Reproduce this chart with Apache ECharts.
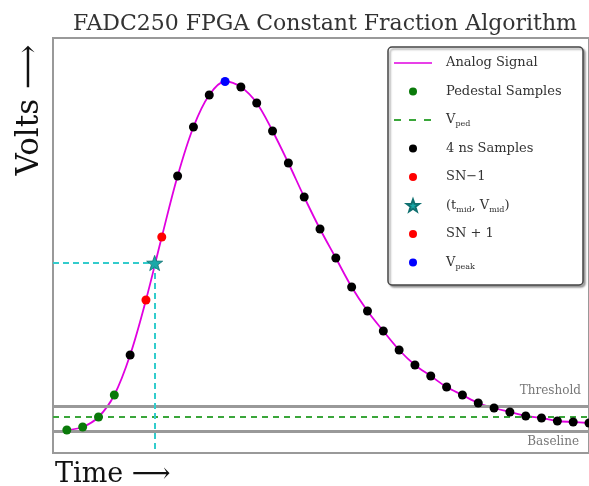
<!DOCTYPE html>
<html>
<head>
<meta charset="utf-8">
<script src="https://cdn.jsdelivr.net/npm/echarts@6/dist/echarts.min.js"></script>
<style>
html, body { margin: 0; padding: 0; background: #fff; }
#main { width: 589px; height: 486px; }
</style>
</head>
<body>
<div id="main"></div>
<script>
// 4 ns samples of the pulse (time in ns, amplitude in arbitrary units)
var sampleTimes = [0, 4, 8, 12, 16, 20, 24, 28, 32, 36, 40, 44, 48, 52, 56, 60, 64,
    68, 72, 76, 80, 84, 88, 92, 96, 100, 104, 108, 112, 116, 120, 124, 128, 132];
var sampleVolts = [23, 26, 36, 58, 98, 153, 216, 277, 326, 358, 371.5, 366, 350, 322, 290, 256, 224,
    195, 166, 142, 122, 103, 88, 77, 66, 58, 50, 45, 41, 37, 35, 32, 31, 30];

var pedestalIdx = [0, 1, 2, 3];
var snMinusIdx = 5;
var snPlusIdx = 6;
var peakIdx = 10;

var midPoint = [22.2, 190];
var pedestalLevel = 36;
var thresholdLevel = 47;
var baselineLevel = 22;
var timeRange = [-3.5, 132];
var voltRange = [0, 415];

var serifFont = 'DejaVu Serif';
var starPath = 'path://M10,0L12.35,6.76L19.51,6.91L13.8,11.24L15.88,18.09L10,14L4.12,18.09L6.2,11.24L0.49,6.91L7.65,6.76Z';
// legend icons, padded to the 38x14 icon box
var dotIcon = 'path://M0,0M38,14M15,7A4,4,0,1,0,23,7A4,4,0,1,0,15,7Z';
var starIcon = 'path://M0,0M38,14M19,1L20.53,5.39L25.18,5.49L21.47,8.31L22.82,12.76L19,10.1L15.18,12.76L16.53,8.31L12.82,5.49L17.47,5.39Z';
var lineIcon = 'path://M0,0M38,14M0,6.2L38,6.2L38,7.8L0,7.8Z';
var dashIcon = 'path://M0,0M38,14M0,6L7,6L7,8L0,8ZM15,6L22,6L22,8L15,8ZM30,6L37,6L37,8L30,8Z';

var analog = sampleTimes.map(function (t, i) { return [t, sampleVolts[i]]; });
var pedestal = pedestalIdx.map(function (i) { return analog[i]; });
var regular = analog.filter(function (p, i) {
    return pedestalIdx.indexOf(i) < 0 && i !== snMinusIdx && i !== snPlusIdx && i !== peakIdx;
});

function dots(name, data, color) {
    return {
        name: name, type: 'scatter', symbol: 'circle', symbolSize: 9, z: 5,
        data: data, itemStyle: {color: color, opacity: 1}
    };
}

var myChart = echarts.init(document.getElementById('main'));

var option = {
    animation: false,
    grid: {
        left: 53, top: 38, width: 537, height: 415,
        show: true, borderColor: '#999', borderWidth: 2
    },
    xAxis: {
        type: 'value', min: timeRange[0], max: timeRange[1],
        axisLine: {show: false}, axisTick: {show: false},
        axisLabel: {show: false}, splitLine: {show: false}
    },
    yAxis: {
        type: 'value', min: voltRange[0], max: voltRange[1],
        axisLine: {show: false}, axisTick: {show: false},
        axisLabel: {show: false}, splitLine: {show: false}
    },
    legend: {
        left: 388, top: 47, orient: 'vertical',
        itemWidth: 38, itemHeight: 14, itemGap: 12.5,
        padding: [8, 0, 0, 5],
        selectedMode: false,
        data: [
            {name: 'Analog Signal', icon: lineIcon},
            {name: 'Pedestal Samples', icon: dotIcon},
            {name: 'Vped', icon: dashIcon},
            {name: '4 ns Samples', icon: dotIcon},
            {name: 'SN−1', icon: dotIcon},
            {name: 'mid', icon: starIcon},
            {name: 'SN+1', icon: dotIcon},
            {name: 'Vpeak', icon: dotIcon}
        ],
        formatter: function (name) {
            if (name === 'Vped') return 'V{s|ped}';
            if (name === 'Vpeak') return 'V{s|peak}';
            if (name === 'mid') return '(t{s|mid}, V{s|mid})';
            if (name === 'SN+1') return 'SN + 1';
            return name;
        },
        textStyle: {
            fontFamily: serifFont, fontSize: 13, color: '#333',
            lineHeight: 16, padding: [0, 0, 0, 9],
            rich: {
                s: {fontFamily: serifFont, fontSize: 8, lineHeight: 10, verticalAlign: 'bottom', color: '#333'}
            }
        }
    },
    graphic: [
        {
            type: 'rect', z: 3, silent: true,
            shape: {x: 388, y: 47, width: 195, height: 238, r: 4},
            style: {fill: '#fff', stroke: '#444', lineWidth: 1.5,
                shadowColor: 'rgba(0,0,0,0.35)', shadowBlur: 2, shadowOffsetX: 2, shadowOffsetY: 2}
        },
        {
            type: 'text', x: 325, y: 24, silent: true,
            style: {text: 'FADC250 FPGA Constant Fraction Algorithm', fontFamily: serifFont,
                fontSize: 22, fill: '#333', textAlign: 'center', textVerticalAlign: 'middle'}
        },
        {
            type: 'text', x: 30, y: 110, rotation: Math.PI / 2, silent: true,
            style: {text: 'Volts ⟶', fontFamily: serifFont, fontSize: 31, fill: '#111',
                textAlign: 'center', textVerticalAlign: 'middle'}
        },
        {
            type: 'text', x: 55, y: 475, silent: true,
            style: {text: 'Time ⟶', fontFamily: serifFont, fontSize: 27, fill: '#111',
                textAlign: 'left', textVerticalAlign: 'middle'}
        }
    ],
    series: [
        {
            name: 'levels', type: 'line', data: [], silent: true,
            markLine: {
                silent: true, symbol: ['none', 'none'], animation: false,
                data: [
                    {
                        yAxis: thresholdLevel,
                        lineStyle: {color: '#999', width: 3, type: 'solid'},
                        label: {show: true, position: 'insideEndTop', formatter: 'Threshold',
                            distance: [8, 9], fontFamily: serifFont, fontSize: 12, color: '#777'}
                    },
                    {
                        yAxis: baselineLevel,
                        lineStyle: {color: '#999', width: 3, type: 'solid'},
                        label: {show: true, position: 'insideEndBottom', formatter: 'Baseline',
                            distance: [10, 5], fontFamily: serifFont, fontSize: 12, color: '#777'}
                    },
                    [
                        {coord: [timeRange[0], midPoint[1]],
                            lineStyle: {color: '#33cccc', width: 2, type: [6, 4]}, label: {show: false}},
                        {coord: midPoint}
                    ],
                    [
                        {coord: midPoint,
                            lineStyle: {color: '#33cccc', width: 2, type: [6, 4]}, label: {show: false}},
                        {coord: [midPoint[0], voltRange[0]]}
                    ]
                ]
            }
        },
        {
            name: 'Analog Signal', type: 'line', smooth: 0.35, symbol: 'none', z: 3,
            data: analog,
            itemStyle: {color: '#e000e0'},
            lineStyle: {color: '#e000e0', width: 1.8}
        },
        {
            name: 'Vped', type: 'line', symbol: 'none', z: 4,
            data: [[timeRange[0], pedestalLevel], [timeRange[1], pedestalLevel]],
            itemStyle: {color: '#3aa63a'},
            lineStyle: {color: '#3aa63a', width: 2, type: [6, 5]}
        },
        dots('Pedestal Samples', pedestal, '#0a7a0a'),
        dots('4 ns Samples', regular, '#000'),
        dots('SN−1', [analog[snMinusIdx]], '#ff0000'),
        {
            name: 'mid', type: 'scatter', symbol: starPath, symbolSize: 16, symbolKeepAspect: true, z: 6,
            data: [midPoint], itemStyle: {color: '#1aa8a8', opacity: 1, borderColor: '#107070', borderWidth: 0.8}
        },
        dots('SN+1', [analog[snPlusIdx]], '#ff0000'),
        dots('Vpeak', [analog[peakIdx]], '#0000ff')
    ]
};

myChart.setOption(option);
</script>
</body>
</html>
